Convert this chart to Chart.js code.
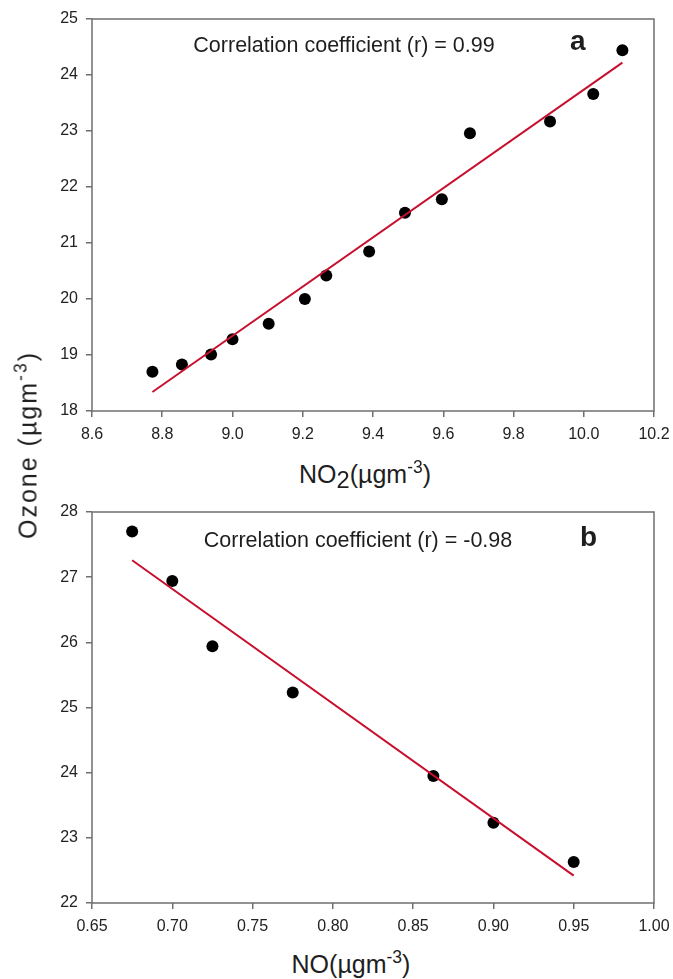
<!DOCTYPE html>
<html>
<head>
<meta charset="utf-8">
<title>Ozone vs NO2 and NO</title>
<script src="https://cdn.jsdelivr.net/npm/chart.js@4.4.0/dist/chart.umd.min.js"></script>
<style>
  body { margin: 0; background: #fff; }
  #wrap { position: relative; width: 673px; height: 979px; font-family: "Liberation Sans", Arial, sans-serif; color: #1e1e1e; }
  canvas { position: absolute; left: 0; }
  #chartA { top: 0; }
  #chartB { top: 490px; }
  .title { position: absolute; width: 300px; text-align: center; font-size: 25px; line-height: 1; white-space: nowrap; }
  .title .sub { font-size: 0.95em; position: relative; top: 0.22em; line-height: 0; }
  .title .sup { font-size: 0.7em; position: relative; top: -0.55em; line-height: 0; }
  #ytitle { left: 28px; top: 445px; transform: translate(-50%, -50%) rotate(-90deg); width: auto; letter-spacing: 2px; }
</style>
</head>
<body>
<div id="wrap">
  <canvas id="chartA" width="673" height="450"></canvas>
  <canvas id="chartB" width="673" height="450"></canvas>
  <div class="title" style="left:215px; top:462px;">NO<span class="sub">2</span>(µgm<span class="sup">-3</span>)</div>
  <div class="title" style="left:201px; top:952px;">NO(µgm<span class="sup">-3</span>)</div>
  <div class="title" id="ytitle">Ozone (µgm<span class="sup">-3</span>)</div>
</div>
<script>
// panel a: ozone against NO2
const no2 = [8.772, 8.856, 8.939, 9.0, 9.103, 9.206, 9.267, 9.389, 9.491, 9.596, 9.676, 9.904, 10.027, 10.11];
const ozoneA = [18.70, 18.83, 19.01, 19.28, 19.56, 20.00, 20.42, 20.85, 21.54, 21.78, 22.96, 23.17, 23.66, 24.44];
const fitA_x = [8.772, 10.11];
const fitA_y = [18.34, 24.22];

// panel b: ozone against NO
const no = [0.675, 0.700, 0.725, 0.775, 0.8626, 0.900, 0.950];
const ozoneB = [27.70, 26.94, 25.94, 25.23, 23.95, 23.23, 22.63];
const fitB_x = [0.675, 0.950];
const fitB_y = [27.26, 22.42];

const noteA = 'Correlation coefficient (r) = 0.99';
const noteB = 'Correlation coefficient (r) = -0.98';

const FONT = '"Liberation Sans", Arial, sans-serif';
const AXIS_GREY = '#6f6f6f';

const pairs = (xs, ys) => xs.map((x, i) => ({ x: x, y: ys[i] }));

// box around the plot area + the r value and panel letter
const panelDeco = {
  id: 'panelDeco',
  beforeDatasetsDraw(chart, args, opts) {
    const { ctx, chartArea: a } = chart;
    ctx.save();
    ctx.strokeStyle = AXIS_GREY;
    ctx.lineWidth = 1.5;
    ctx.strokeRect(a.left, a.top, a.right - a.left, a.bottom - a.top);

    ctx.fillStyle = '#1e1e1e';
    ctx.textBaseline = 'alphabetic';
    ctx.textAlign = 'center';
    ctx.font = '21.5px ' + FONT;
    ctx.fillText(opts.text, a.left + opts.tx, a.top + opts.ty);

    ctx.textAlign = 'left';
    ctx.font = 'bold 28px ' + FONT;
    ctx.fillText(opts.letter, a.left + opts.lx, a.top + opts.ly);
    ctx.restore();
  }
};

function makeChart(id, pts, fit, xr, yr, deco) {
  return new Chart(document.getElementById(id), {
    type: 'scatter',
    data: {
      datasets: [{
        data: fit,
        showLine: true,
        borderColor: '#c8102e',
        borderWidth: 2,
        pointRadius: 0,
        order: 0
      }, {
        data: pts,
        backgroundColor: '#000',
        borderWidth: 0,
        pointRadius: 6,
        order: 1
      }]
    },
    options: {
      responsive: false,
      animation: false,
      layout: { padding: { left: 0, right: 19, top: deco.padTop, bottom: 0 } },
      plugins: {
        legend: { display: false },
        tooltip: { enabled: false },
        panelDeco: deco
      },
      scales: {
        x: {
          type: 'linear',
          min: xr.min, max: xr.max,
          border: { display: false },
          grid: { drawOnChartArea: false, drawTicks: true, tickLength: 6, color: AXIS_GREY, lineWidth: 1.5 },
          ticks: {
            stepSize: xr.step,
            padding: 8,
            color: '#222',
            font: { family: FONT, size: 16 },
            callback: v => v.toFixed(xr.dec)
          },
          // fixed height, and no extra room reserved for the end labels
          afterFit: s => {
            s.height = 450 - deco.bottom;
            s.paddingLeft = 0;
            s.paddingRight = 0;
          }
        },
        y: {
          type: 'linear',
          min: yr.min, max: yr.max,
          border: { display: false },
          grid: { drawOnChartArea: false, drawTicks: true, tickLength: 6, color: AXIS_GREY, lineWidth: 1.5 },
          ticks: {
            stepSize: 1,
            padding: 8,
            color: '#222',
            font: { family: FONT, size: 16 },
            callback: v => v.toFixed(0)
          },
          afterFit: s => {
            s.width = 92;
            s.paddingTop = 0;
            s.paddingBottom = 0;
          }
        }
      }
    },
    plugins: [panelDeco]
  });
}

makeChart('chartA', pairs(no2, ozoneA), pairs(fitA_x, fitA_y),
  { min: 8.6, max: 10.2, step: 0.2, dec: 1 }, { min: 18, max: 25 },
  { text: noteA, tx: 252, ty: 33, letter: 'a', lx: 478, ly: 31, padTop: 19, bottom: 411 });

makeChart('chartB', pairs(no, ozoneB), pairs(fitB_x, fitB_y),
  { min: 0.65, max: 1.0, step: 0.05, dec: 2 }, { min: 22, max: 28 },
  { text: noteB, tx: 266, ty: 35, letter: 'b', lx: 488, ly: 34, padTop: 22, bottom: 413 });
</script>
</body>
</html>
